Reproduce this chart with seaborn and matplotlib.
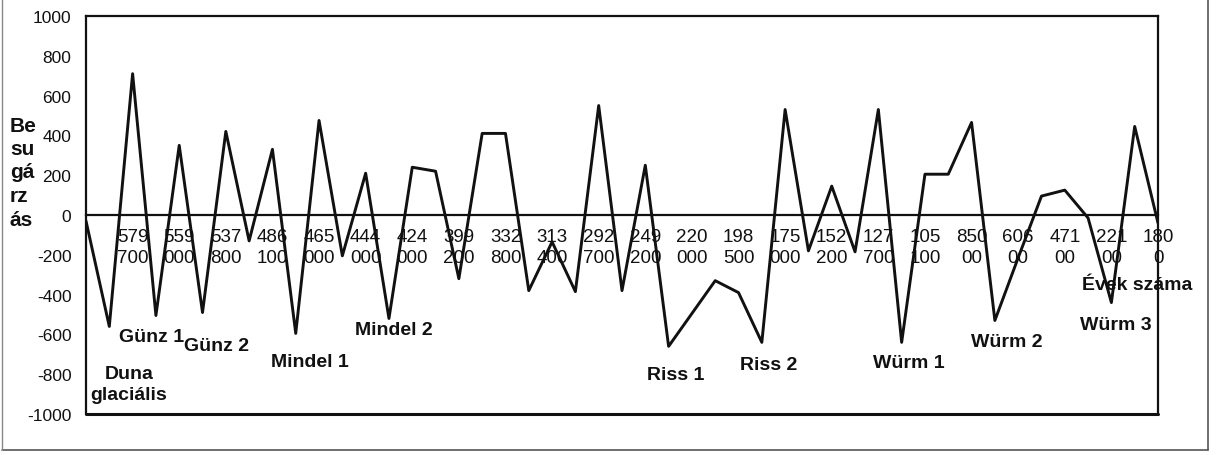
import matplotlib
matplotlib.use("Agg")
from matplotlib import pyplot as plt
from matplotlib.lines import Line2D
import seaborn as sns
import pandas as pd
import numpy as np

# sugárzás értékek (47 pont, minden ponthoz tartozik osztásjel)
radiation = [-30, -560, 710, -505, 350, -490, 420, -130, 330, -595,
             475, -205, 210, -520, 240, 220, -320, 410, 410, -380,
             -135, -385, 550, -380, 250, -660, -495, -330, -390, -640,
             530, -180, 145, -185, 530, -640, 205, 205, 465, -530,
             -215, 95, 125, -15, -440, 445, -40]

# évek száma, minden második pontnál kiírva
year_labels = ["579\n700", "559\n000", "537\n800", "486\n100", "465\n000",
               "444\n000", "424\n000", "399\n200", "332\n800", "313\n400",
               "292\n700", "249\n200", "220\n000", "198\n500", "175\n000",
               "152\n200", "127\n700", "105\n100", "850\n00", "606\n00",
               "471\n00", "221\n00", "180\n0"]

# glaciálisok neve és helye (x index, sugárzás)
glacial_names = ["Duna\nglaciális", "Günz 1", "Günz 2", "Mindel 1", "Mindel 2",
                 "Riss 1", "Riss 2", "Würm 1", "Würm 2", "Würm 3"]
glacial_x = [1.85, 2.8, 5.6, 9.6, 13.2, 25.3, 29.3, 35.3, 39.5, 44.2]
glacial_y = [-850, -613, -658, -734, -573, -799, -749, -739, -638, -548]

y_ticks = list(range(-1000, 1001, 200))

sns.set_style("white")
plt.rcParams['font.family'] = ['Liberation Sans', 'DejaVu Sans']

df = pd.DataFrame({"idx": np.arange(len(radiation)), "value": radiation})

fig = plt.figure(figsize=(12.17, 4.56), dpi=100)
ax = fig.add_axes([86 / 1217, 41 / 456, 1072 / 1217, 398 / 456])

sns.lineplot(data=df, x="idx", y="value", color="#111111", linewidth=2.1, ax=ax)

ax.set_xlim(0, len(radiation) - 1)
ax.set_ylim(-1000, 1000)

# x tengely a nulla vonalon
ax.spines['bottom'].set_position(('data', 0))
for s in ax.spines.values():
    s.set_color("#111111")
    s.set_linewidth(1.6)
ax.axhline(-1000, color="#111111", linewidth=2.2, clip_on=False)

tick_lab = [""] * len(radiation)
for i, lab in enumerate(year_labels):
    tick_lab[2 + 2 * i] = lab
ax.set_xticks(df["idx"])
ax.set_xticklabels(tick_lab, fontsize=13.5, linespacing=1.3)
ax.set_yticks(y_ticks)
ax.set_yticklabels([str(v) for v in y_ticks], fontsize=12.5)
ax.tick_params(axis='x', direction='inout', length=7, width=1.2, pad=6, colors="#111111")
ax.tick_params(axis='y', direction='inout', length=7, width=1.2, pad=7, colors="#111111")
ax.set_xlabel("")
ax.set_ylabel("")

for name, gx, gy in zip(glacial_names, glacial_x, glacial_y):
    ax.text(gx, gy, name, ha='center', va='center', fontsize=14,
            fontweight='bold', linespacing=1.35, color="#111111")

ax.text(45.1, -347, "Évek száma", ha='center', va='center', fontsize=14,
        fontweight='bold', color="#111111")

fig.text(10 / 1217, 1 - 173 / 456, "Be\nsu\ngá\nrz\nás", ha='left', va='center',
         fontsize=15, fontweight='bold', linespacing=1.3, color="#111111")

# a beszkennelt ábra külső kerete
fig.add_artist(Line2D([1208 / 1217, 1208 / 1217], [5 / 456, 1], color="#555555", linewidth=1.2))
fig.add_artist(Line2D([2 / 1217, 1208 / 1217], [5 / 456, 5 / 456], color="#555555", linewidth=1.2))
fig.add_artist(Line2D([2 / 1217, 2 / 1217], [5 / 456, 1], color="#888888", linewidth=1.0))

fig.savefig("out.png", dpi=100, facecolor="white")
